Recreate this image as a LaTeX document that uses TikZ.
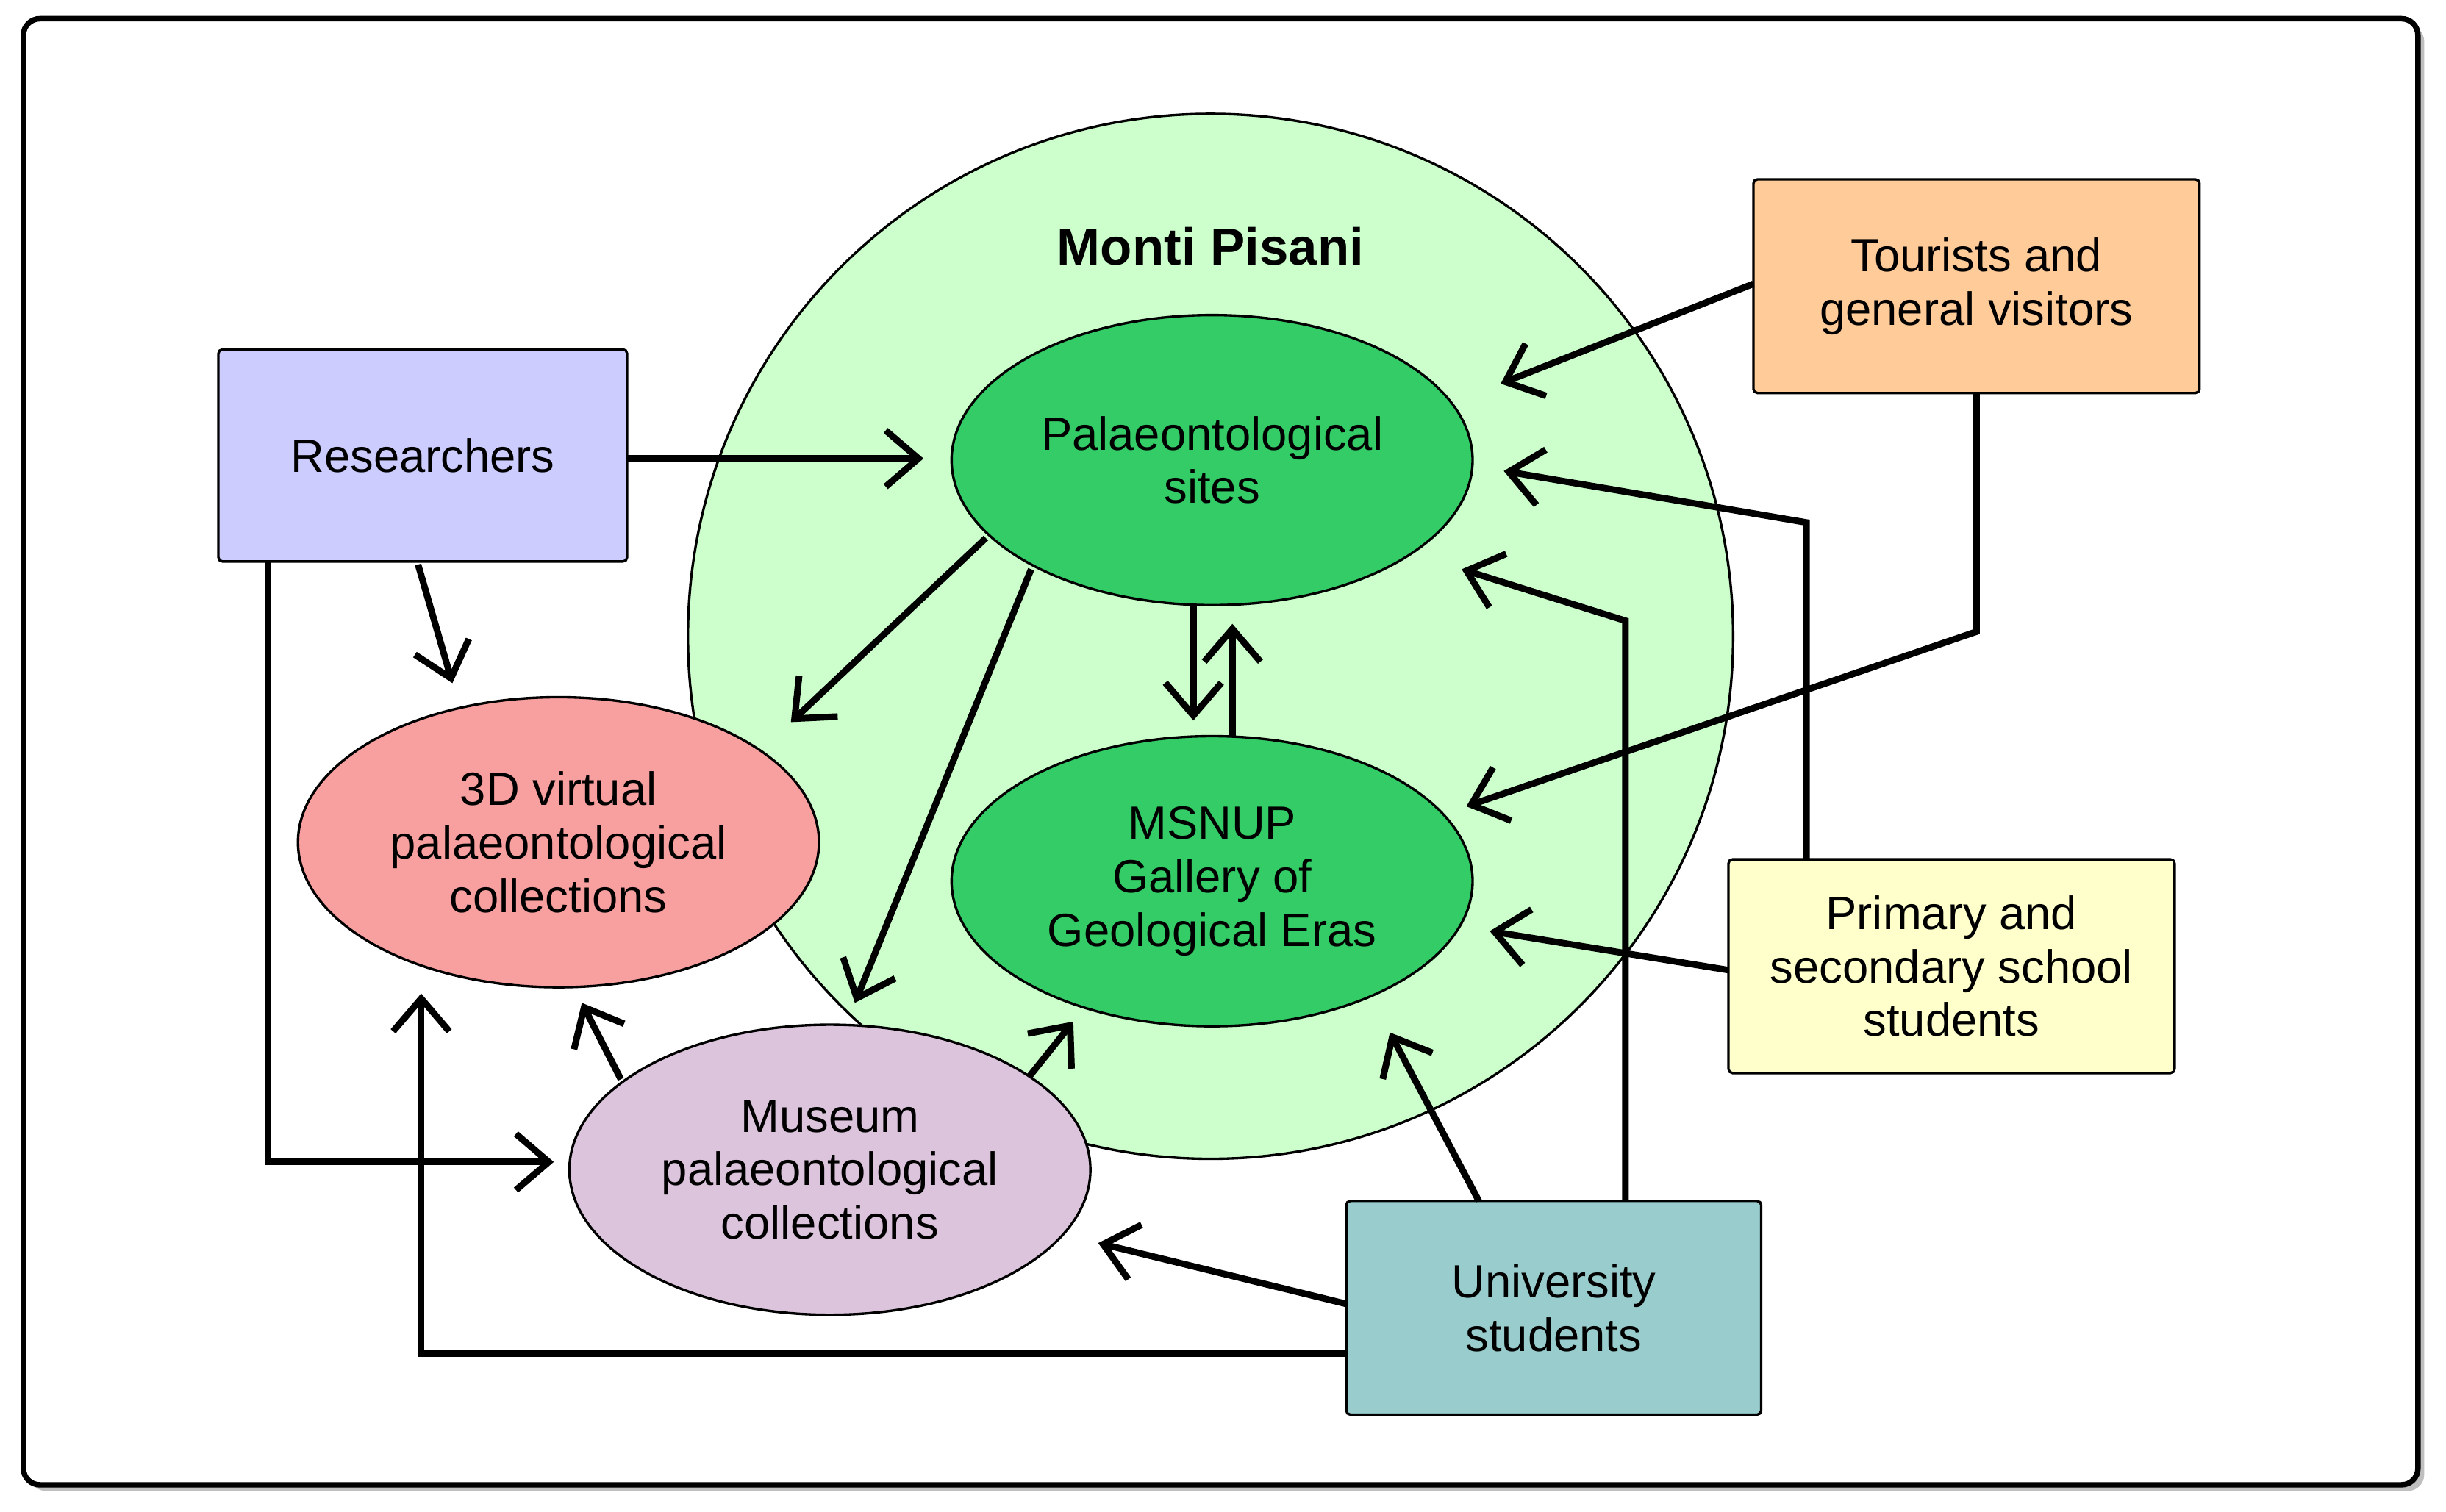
\documentclass[tikz,border=0pt]{standalone}
\usepackage{fontspec}
\setmainfont{Liberation Sans}
\usetikzlibrary{arrows.meta,shapes.geometric}
\begin{document}
\begin{tikzpicture}[x=0.02cm,y=-0.02cm,
 lbl/.style={font=\fontsize{17}{19.5}\selectfont,align=center},
 ell/.style={ellipse,draw,line width=0.9pt,minimum width=334*0.02cm,minimum height=186*0.02cm,inner sep=0pt,lbl},
 box/.style={draw,line width=0.9pt,rounded corners=1.5pt,lbl},
 arr/.style={line width=2.4pt,-{Straight Barb[length=0.42cm,width=0.72cm,line width=2.4pt]}}]
\useasboundingbox (0,0) rectangle (1568,969.4);
\fill[gray!50,rounded corners=6pt] (19,16) rectangle (1554,956);
\draw[line width=2pt,fill=white,rounded corners=6pt] (15,12) rectangle (1550,952);
\node[circle,draw,line width=0.9pt,fill={rgb,255:red,204;green,255;blue,204},minimum size=670*0.02cm,inner sep=0pt] (mp) at (776,408) {};
\node[font=\fontsize{19}{22}\selectfont\bfseries] (mpl) at (776,158) {Monti Pisani};
\node[ell,fill={rgb,255:red,51;green,204;blue,102}] (sites) at (777,295) {Palaeontological\\sites};
\node[ell,fill={rgb,255:red,51;green,204;blue,102}] (msnup) at (777,565) {MSNUP\\Gallery of\\Geological Eras};
\node[ell,fill={rgb,255:red,248;green,160;blue,160}] (v3d) at (358,540) {3D virtual\\palaeontological\\collections};
\node[ell,fill={rgb,255:red,220;green,196;blue,220}] (mus) at (532,750) {Museum\\palaeontological\\collections};
\node[box,fill={rgb,255:red,204;green,204;blue,255},minimum width=262*0.02cm,minimum height=136*0.02cm] (res) at (271,292) {Researchers};
\node[box,fill={rgb,255:red,255;green,204;blue,153},minimum width=286*0.02cm,minimum height=137*0.02cm] (tour) at (1267,183.5) {Tourists and\\general visitors};
\node[box,fill={rgb,255:red,255;green,255;blue,204},minimum width=286*0.02cm,minimum height=137*0.02cm] (prim) at (1251,619.5) {Primary and\\secondary school\\students};
\node[box,fill={rgb,255:red,153;green,204;blue,204},minimum width=266*0.02cm,minimum height=137*0.02cm] (uni) at (996,838.5) {University\\students};
% coordinates
\coordinate (r1) at (402,294); \coordinate (s1) at (592,294);
\coordinate (r2) at (268,362); \coordinate (v1) at (290,438);
\coordinate (r3) at (172,360); \coordinate (b1) at (172,745); \coordinate (m1) at (355,745);
\coordinate (s2) at (632,345); \coordinate (v2) at (507,463);
\coordinate (s3) at (661,365); \coordinate (m2) at (548,643);
\coordinate (s4) at (765,388); \coordinate (g1) at (765,462);
\coordinate (g2) at (790,472); \coordinate (s5) at (790,400);
\coordinate (t1) at (1124,182); \coordinate (s6) at (962,246);
\coordinate (t2) at (1267,252); \coordinate (b2) at (1267,405); \coordinate (g3) at (940,517);
\coordinate (p1) at (1158,551); \coordinate (b3) at (1158,335); \coordinate (s7) at (964,302);
\coordinate (p2) at (1108,622); \coordinate (g4) at (955,597);
\coordinate (u1) at (1042,770); \coordinate (b4) at (1042,398); \coordinate (s8) at (937,365);
\coordinate (u2) at (948,770); \coordinate (g5) at (891,662);
\coordinate (u3) at (863,836); \coordinate (m3) at (704,797);
\coordinate (u4) at (863,868); \coordinate (b5) at (270,868); \coordinate (v3) at (270,637);
\coordinate (m4) at (398,692); \coordinate (v4) at (373,643);
\coordinate (m5) at (660,690); \coordinate (g6) at (688,655);
\draw[arr] (r1) -- (s1);
\draw[arr] (r2) -- (v1);
\draw[arr] (r3) -- (b1) -- (m1);
\draw[arr] (s2) -- (v2);
\draw[arr] (s3) -- (m2);
\draw[arr] (s4) -- (g1);
\draw[arr] (g2) -- (s5);
\draw[arr] (t1) -- (s6);
\draw[arr] (t2) -- (b2) -- (g3);
\draw[arr] (p1) -- (b3) -- (s7);
\draw[arr] (p2) -- (g4);
\draw[arr] (u1) -- (b4) -- (s8);
\draw[arr] (u2) -- (g5);
\draw[arr] (u3) -- (m3);
\draw[arr] (u4) -- (b5) -- (v3);
\draw[arr] (m4) -- (v4);
\draw[arr] (m5) -- (g6);
\end{tikzpicture}
\end{document}
